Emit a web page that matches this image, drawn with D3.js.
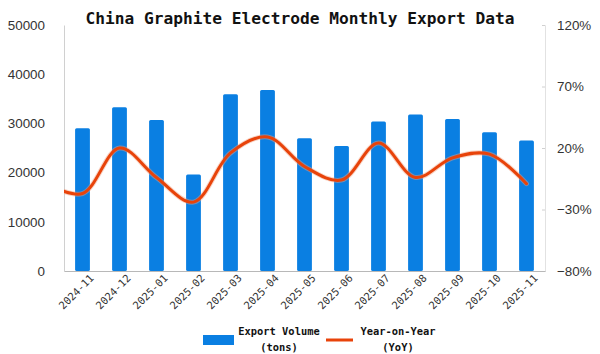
<!DOCTYPE html>
<html>
<head>
<meta charset="utf-8">
<script src="https://cdn.jsdelivr.net/npm/d3@7"></script>
<style>
  body { margin: 0; background: #fff; }
  svg { display: block; }
</style>
</head>
<body>
<div id="chart"></div>
<script>
// data
const months = ["2024-11", "2024-12", "2025-01", "2025-02", "2025-03", "2025-04", "2025-05",
                "2025-06", "2025-07", "2025-08", "2025-09", "2025-10", "2025-11"];
const volume = [29000, 33300, 30700, 19600, 35900, 36800, 27000, 25400, 30400, 31800, 30900, 28200, 26500];
const yoy = [-17, 20, -4, -24, 16, 29, 5, -6, 24, -4, 12, 15, -9];
const yoyPrev = -9;           // 2024-10, only the lead-in of the curve shows
const volTicks = [0, 10000, 20000, 30000, 40000, 50000];
const yoyTicks = [-80, -30, 20, 70, 120];

const width = 600, height = 354;
const margin = { top: 25, right: 55, bottom: 83, left: 64 };
const innerW = width - margin.left - margin.right;
const innerH = height - margin.top - margin.bottom;

const svg = d3.select("#chart").append("svg")
    .attr("width", width)
    .attr("height", height);

// title
svg.append("text")
    .attr("x", 300)
    .attr("y", 24)
    .attr("text-anchor", "middle")
    .style("font-family", "'DejaVu Sans Mono', monospace")
    .style("font-weight", "bold")
    .style("font-size", "16.2px")
    .style("fill", "#111")
    .text("China Graphite Electrode Monthly Export Data");

const g = svg.append("g")
    .attr("transform", `translate(${margin.left},${margin.top})`);

// scales
const x = d3.scaleBand()
    .domain(months)
    .range([0, innerW])
    .paddingInner(0.6)
    .paddingOuter(0.3);

const y = d3.scaleLinear().domain([0, 50000]).range([innerH, 0]);
const y2 = d3.scaleLinear().domain([-80, 120]).range([innerH, 0]);

// left axis
const yAxis = g.append("g")
    .call(d3.axisLeft(y).tickValues(volTicks).tickFormat(d3.format("d")).tickSize(0).tickPadding(19));
yAxis.select(".domain").attr("stroke", "#d0d0d0");
yAxis.selectAll("text")
    .style("font-family", "'Liberation Sans', Arial, sans-serif")
    .style("font-size", "13.4px")
    .style("fill", "#333");

// right axis
const y2Axis = g.append("g")
    .attr("transform", `translate(${innerW},0)`)
    .call(d3.axisRight(y2).tickValues(yoyTicks).tickFormat(d => (d < 0 ? "\u2212" + (-d) : d) + "%").tickSize(-3).tickPadding(12));
y2Axis.select(".domain").attr("stroke", "#e2e2e2");
y2Axis.selectAll(".tick line").attr("stroke", "#d0d0d0");
y2Axis.selectAll("text")
    .style("font-family", "'Liberation Sans', Arial, sans-serif")
    .style("font-size", "13.4px")
    .style("fill", "#333");

// bars
g.selectAll(".bar")
    .data(months)
    .enter().append("rect")
    .attr("class", "bar")
    .attr("x", d => x(d))
    .attr("width", x.bandwidth())
    .attr("y", (d, i) => y(volume[i]))
    .attr("height", (d, i) => innerH - y(volume[i]))
    .attr("rx", 1.5)
    .style("fill", "#0a7fe2");

// bottom axis
const xAxis = g.append("g")
    .attr("transform", `translate(0,${innerH})`)
    .call(d3.axisBottom(x).tickSize(0).tickPadding(8));
xAxis.select(".domain").attr("stroke", "#b8b8b8").attr("stroke-width", 1.2);
xAxis.selectAll("text")
    .attr("text-anchor", "end")
    .attr("dx", "3px")
    .attr("dy", "6px")
    .attr("transform", "rotate(-45)")
    .style("font-family", "'DejaVu Sans Mono', monospace")
    .style("font-size", "10.5px")
    .style("fill", "#333");

// yoy line, clipped to the plot area
g.append("clipPath")
    .attr("id", "plot-clip")
    .append("rect")
    .attr("width", innerW)
    .attr("height", innerH);

const cx = d => x(d) + x.bandwidth() / 2;
const linePts = [[cx(months[0]) - x.step(), yoyPrev]]
    .concat(months.map((m, i) => [cx(m), yoy[i]]));

const line = d3.line()
    .x(d => d[0])
    .y(d => y2(d[1]))
    .curve(d3.curveCatmullRom.alpha(0.5));

const lineG = g.append("g").attr("clip-path", "url(#plot-clip)");
lineG.append("path")
    .datum(linePts)
    .attr("d", line)
    .style("fill", "none")
    .style("stroke", "#f0a080")
    .style("stroke-opacity", 0.45)
    .style("stroke-width", 5)
    .style("stroke-linecap", "round");
lineG.append("path")
    .datum(linePts)
    .attr("d", line)
    .style("fill", "none")
    .style("stroke", "#e8430a")
    .style("stroke-width", 3)
    .style("stroke-linecap", "round");

// legend
const legend = svg.append("g");
const legFont = "'DejaVu Sans Mono', monospace";

legend.append("rect")
    .attr("x", 203).attr("y", 335)
    .attr("width", 31).attr("height", 10)
    .style("fill", "#0a7fe2");
legend.append("text")
    .attr("x", 279).attr("y", 335)
    .attr("text-anchor", "middle")
    .style("font-family", legFont).style("font-weight", "bold").style("font-size", "10.4px")
    .style("fill", "#111")
    .text("Export Volume");
legend.append("text")
    .attr("x", 279).attr("y", 351)
    .attr("text-anchor", "middle")
    .style("font-family", legFont).style("font-weight", "bold").style("font-size", "10.4px")
    .style("fill", "#111")
    .text("(tons)");

legend.append("line")
    .attr("x1", 326).attr("x2", 353)
    .attr("y1", 340).attr("y2", 340)
    .style("stroke", "#e8430a")
    .style("stroke-width", 3);
legend.append("text")
    .attr("x", 398).attr("y", 335)
    .attr("text-anchor", "middle")
    .style("font-family", legFont).style("font-weight", "bold").style("font-size", "10.4px")
    .style("fill", "#111")
    .text("Year-on-Year");
legend.append("text")
    .attr("x", 398).attr("y", 351)
    .attr("text-anchor", "middle")
    .style("font-family", legFont).style("font-weight", "bold").style("font-size", "10.4px")
    .style("fill", "#111")
    .text("(YoY)");
</script>
</body>
</html>
